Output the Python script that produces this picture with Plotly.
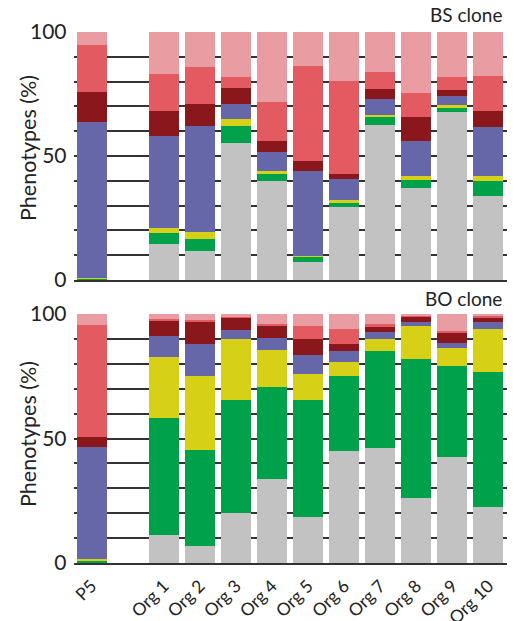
import plotly.graph_objects as go

# Categories (a blank slot separates the parent line from the organoids)
categories = ["P5", " ", "Org 1", "Org 2", "Org 3", "Org 4", "Org 5",
              "Org 6", "Org 7", "Org 8", "Org 9", "Org 10"]

# Phenotype classes, stacked bottom to top
phenotypes = ["gray", "green", "yellow", "blue", "dark red", "red", "pink"]
colors = ["#C2C2C2", "#00A14B", "#D6D117", "#6567A9", "#8A171C", "#E35A60", "#E99CA2"]

# BS clone: share (%) of each phenotype per sample (None = empty slot)
bs_gray     = [0.0, None, 14.4, 11.7, 55.2, 40.0, 7.1, 29.6, 62.6, 36.9, 67.7, 33.9]
bs_green    = [0.6, None, 4.4, 4.7, 7.0, 2.7, 2.3, 1.4, 3.1, 3.5, 2.0, 6.1]
bs_yellow   = [0.4, None, 2.1, 3.1, 2.7, 1.4, 0.4, 1.3, 0.9, 1.6, 0.7, 2.0]
bs_blue     = [62.9, None, 37.0, 42.4, 6.0, 7.7, 34.2, 8.5, 6.3, 14.0, 3.6, 19.8]
bs_darkred  = [12.1, None, 10.3, 9.2, 6.4, 4.2, 3.8, 1.9, 4.1, 9.7, 2.7, 6.2]
bs_red      = [18.9, None, 15.0, 14.6, 4.5, 15.7, 38.3, 37.4, 6.7, 9.7, 5.0, 14.1]
bs_pink     = [5.1, None, 16.8, 14.3, 18.2, 28.3, 13.9, 19.9, 16.3, 24.6, 18.3, 17.9]

# BO clone
bo_gray     = [0.0, None, 11.1, 7.0, 19.9, 33.6, 18.5, 44.8, 46.2, 26.3, 42.6, 22.6]
bo_green    = [0.8, None, 47.0, 38.2, 45.5, 36.9, 47.0, 30.5, 39.0, 55.8, 36.7, 54.0]
bo_yellow   = [0.9, None, 24.6, 30.0, 24.7, 15.1, 10.5, 5.5, 4.9, 12.9, 7.0, 17.2]
bo_blue     = [44.7, None, 8.6, 12.9, 3.6, 4.7, 7.5, 4.2, 2.5, 1.8, 2.2, 2.8]
bo_darkred  = [4.3, None, 6.1, 8.7, 4.7, 4.7, 6.6, 3.1, 2.3, 2.0, 3.7, 1.9]
bo_red      = [44.7, None, 0.7, 0.6, 0.4, 1.0, 4.9, 6.0, 1.2, 0.3, 1.1, 0.7]
bo_pink     = [4.6, None, 1.9, 2.6, 1.2, 4.0, 5.0, 5.9, 3.9, 0.9, 6.7, 0.8]

bs_series = [bs_gray, bs_green, bs_yellow, bs_blue, bs_darkred, bs_red, bs_pink]
bo_series = [bo_gray, bo_green, bo_yellow, bo_blue, bo_darkred, bo_red, bo_pink]

FONT = "Lato, 'Open Sans', sans-serif"
TXT = "#222222"
W, H = 513, 621

fig = go.Figure()
for name, col, vals in zip(phenotypes, colors, bs_series):
    fig.add_trace(go.Bar(x=categories, y=vals, name=name, marker_color=col,
                         marker_line_width=0, xaxis="x", yaxis="y",
                         showlegend=False))
for name, col, vals in zip(phenotypes, colors, bo_series):
    fig.add_trace(go.Bar(x=categories, y=vals, name=name, marker_color=col,
                         marker_line_width=0, xaxis="x2", yaxis="y2",
                         showlegend=False))

grid_vals = list(range(0, 101, 10))
grid_text = ["0" if v == 0 else "50" if v == 50 else "100" if v == 100 else ""
             for v in grid_vals]

yaxis_common = dict(
    range=[0, 100], tickvals=grid_vals, ticktext=grid_text,
    showgrid=True, gridcolor="#333333", gridwidth=1.5,
    zeroline=False, showline=False, ticks="",
    tickfont=dict(family=FONT, size=21, color=TXT),
    ticklabelstandoff=6, fixedrange=True, automargin=False,
)
xdom = [73.5 / W, 506.5 / W]
top_dom = [(H - 280) / H, (H - 32) / H]
bot_dom = [(H - 563) / H, (H - 314) / H]


def side_label(text, y_px, size=21, angle=0, x_px=504, anchor="right"):
    return dict(text=text, x=x_px / W, y=1 - y_px / H, xref="paper",
                yref="paper", xanchor=anchor, yanchor="middle",
                showarrow=False, textangle=angle,
                font=dict(family=FONT, size=size, color=TXT))


fig.update_layout(
    width=W, height=H,
    margin=dict(l=0, r=0, t=0, b=0),
    paper_bgcolor="white", plot_bgcolor="white",
    barmode="stack", bargap=0.17,
    font=dict(family=FONT, color=TXT),
    xaxis=dict(domain=xdom, anchor="y", showticklabels=False, ticks="",
               showline=True, linecolor="#333333", linewidth=1.6,
               automargin=False,
               categoryorder="array", categoryarray=categories),
    yaxis=dict(domain=top_dom, anchor="x", **yaxis_common),
    xaxis2=dict(domain=xdom, anchor="y2", ticks="",
                showline=True, linecolor="#333333", linewidth=1.6,
                tickangle=-45, automargin=False, ticklabelstandoff=4,
                tickfont=dict(family=FONT, size=17.5, color=TXT),
                categoryorder="array", categoryarray=categories),
    yaxis2=dict(domain=bot_dom, anchor="x2", **yaxis_common),
    annotations=[
        side_label("BS clone", 15, size=19),
        side_label("BO clone", 298, size=19),
        side_label("Phenotypes (%)", 148, size=21.5, angle=-90,
                   x_px=28, anchor="center"),
        side_label("Phenotypes (%)", 434, size=21.5, angle=-90,
                   x_px=28, anchor="center"),
    ],
)

fig.write_html("out.html")
